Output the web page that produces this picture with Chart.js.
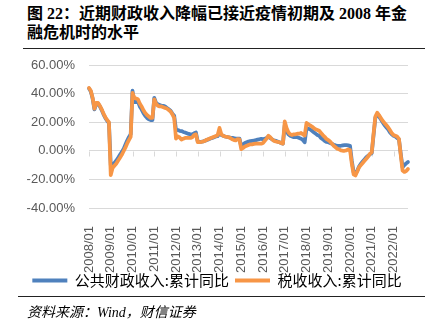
<!DOCTYPE html>
<html>
<head>
<meta charset="utf-8">
<script src="https://cdn.jsdelivr.net/npm/chart.js@4.4.0/dist/chart.umd.min.js"></script>
<style>
  html, body { margin: 0; padding: 0; background: #fff; }
  body { width: 433px; height: 326px; position: relative; overflow: hidden; }
  .title {
    position: absolute; left: 27px; top: 4px; white-space: nowrap;
    font: bold 16px "Liberation Serif", "Noto Sans CJK SC", serif;
    line-height: 19px; color: #000;
  }
  .rule { position: absolute; height: 0; border-top: 1.5px solid #222; }
  #wrap { position: absolute; left: 0; top: 52px; width: 433px; height: 246px; }
  .source {
    position: absolute; left: 27px; top: 303px; white-space: nowrap;
    font: italic 14px "Liberation Serif", "Noto Sans CJK SC", serif;
    line-height: 20px; color: #000;
  }
</style>
</head>
<body>
<div class="title">图 22：近期财政收入降幅已接近疫情初期及 2008 年金<br>融危机时的水平</div>
<div class="rule" style="left:23px; width:402px; top:48px;"></div>
<div id="wrap"><canvas id="revenue" width="433" height="246"></canvas></div>
<div class="rule" style="left:18px; width:407px; top:296px;"></div>
<div class="source">资料来源：Wind，财信证券</div>

<script>
  "use strict";

  // monthly cumulative YoY, %, 2008/01 .. 2022/09
  var pub2008 = [43.5, 41.5, 36.5, 29, 33, 33, 31, 28.5, 25.5, 23, 21, 19.5];
  var pub2009 = [-10, -9.5, -8.5, -7, -5, -3, -1, 1, 4, 7, 9.5, 11.7];
  var pub2010 = [42, 34, 34, 34.5, 31, 29, 26.5, 24.5, 23, 22, 21.5, 21.5];
  var pub2011 = [37, 33.5, 32.5, 32, 31.5, 31.5, 31, 30, 29, 28, 26, 24.5];
  var pub2012 = [14.5, 14.5, 14, 13.8, 13.2, 12.8, 12.3, 11.8, 11.5, 11.5, 12.3, 12.8];
  var pub2013 = [6.5, 6.2, 6.3, 6.6, 7, 7.6, 8, 8.6, 9, 9.5, 10, 10.2];
  var pub2014 = [13, 11, 10.5, 10, 9.8, 9.5, 9.2, 9, 8.8, 8.5, 8.6, 8.6];
  var pub2015 = [3, 4.5, 5.5, 6, 6.5, 6.8, 7, 7.2, 7.4, 7.8, 8.1, 8.4];
  var pub2016 = [8, 8.5, 9, 10, 9, 8, 7.3, 7, 6.5, 6, 5.5, 5];
  var pub2017 = [18, 14, 11.5, 10.5, 10, 9.5, 9.5, 9.5, 9, 8.5, 7.5, 6];
  var pub2018 = [16, 15.5, 15, 14, 13, 12, 11, 10.5, 9, 8, 7, 6.2];
  var pub2019 = [6, 5.5, 5, 4.2, 3.8, 3.5, 3.5, 3.5, 3.8, 4, 4, 3.8];
  var pub2020 = [3.5, -7, -15, -16, -14, -11, -9, -7.5, -6, -4.5, -3.5, -2.5];
  var pub2021 = [-1.5, 11, 23, 25.5, 24, 22, 20, 18, 16.5, 15, 13, 11.5];
  var pub2022 = [10.5, 10, 9, 8, -2, -11.5, -10, -8.8, -7.8];

  var tax2008 = [44, 42, 37, 29.5, 33.5, 33.5, 31.5, 29, 26, 23.5, 21.5, 20];
  var tax2009 = [-17, -12, -10.5, -9, -7, -5, -3, -0.5, 2, 5, 7.5, 9.8];
  var tax2010 = [40.5, 37, 36.5, 36, 33, 31, 28.5, 26.5, 25, 24, 23, 23];
  var tax2011 = [36, 33, 31.5, 31, 31, 30.5, 30, 29.5, 28.5, 27.5, 25.5, 23];
  var tax2012 = [8.5, 10, 9.3, 7.8, 8.5, 9, 9, 9, 9, 9.5, 11, 11.5];
  var tax2013 = [6, 6, 6.2, 6.5, 7, 7.8, 8.3, 8.8, 9.3, 9.8, 10.3, 11];
  var tax2014 = [16, 11.5, 10.5, 10, 9.8, 9.5, 9, 8, 7.5, 7.3, 8.2, 8];
  var tax2015 = [1.2, 2, 3, 3.5, 4, 4.5, 4.5, 4.8, 5, 5, 5, 5];
  var tax2016 = [5.5, 7, 8.5, 10.5, 9.5, 8, 7, 6.5, 6.2, 6, 5.5, 5];
  var tax2017 = [20.5, 16, 13, 11.5, 11, 11.5, 11.5, 12, 12, 12.5, 11.5, 10.7];
  var tax2018 = [19.5, 18.5, 17.8, 17, 16, 15, 14.5, 14, 12.5, 11, 9.8, 8.3];
  var tax2019 = [7.5, 6.5, 5, 3.5, 2.5, 1.5, 1, 0.3, 0, 0, 0.3, 1];
  var tax2020 = [0.5, -9, -16.5, -17.3, -14.5, -11.5, -10, -8.5, -7, -5.5, -4, -2];
  var tax2021 = [-1, 12, 24, 26.6, 25, 23, 21, 19.5, 18, 16.5, 14.5, 12.5];
  var tax2022 = [11, 10.5, 10, 8.3, -3, -13.8, -14.8, -14.2, -12.7];

  var publicRevenue = [].concat(pub2008, pub2009, pub2010, pub2011, pub2012, pub2013, pub2014,
    pub2015, pub2016, pub2017, pub2018, pub2019, pub2020, pub2021, pub2022);
  var taxRevenue = [].concat(tax2008, tax2009, tax2010, tax2011, tax2012, tax2013, tax2014,
    tax2015, tax2016, tax2017, tax2018, tax2019, tax2020, tax2021, tax2022);

  var yTicks = [-40, -20, 0, 20, 40, 60];

  var months = [];
  for (var y = 2008; y <= 2022; y++) {
    for (var m = 1; m <= 12; m++) {
      if (y === 2022 && m > 9) break;
      months.push(y + "/" + (m < 10 ? "0" + m : m));
    }
  }

  var isYearStart = function(label) {
    return label.slice(-3) === "/01";
  };

  // let tick labels run past their axis box instead of being clipped
  var noLabelClip = function(scale) {
    scale._computeLabelArea = function() { return undefined; };
  };

  // short tick marks hanging from the zero line, one per January
  var zeroTicks = {
    id: "zeroTicks",
    beforeDatasetsDraw: function(chart) {
      var ctx = chart.ctx;
      var xs = chart.scales.x;
      var y0 = Math.round(chart.scales.y.getPixelForValue(0)) + 0.5;
      ctx.save();
      ctx.strokeStyle = "#d9d9d9";
      ctx.lineWidth = 1;
      months.forEach(function(label, i) {
        if (!isYearStart(label)) return;
        var px = Math.round(xs.getPixelForValue(i)) + 0.5;
        ctx.beginPath();
        ctx.moveTo(px, y0);
        ctx.lineTo(px, y0 + 5);
        ctx.stroke();
      });
      ctx.restore();
    }
  };

  var line = function(label, values, color, order) {
    return {
      label: label,
      data: values,
      borderColor: color,
      backgroundColor: color,
      borderWidth: 3.75,
      borderJoinStyle: "round",
      borderCapStyle: "round",
      pointRadius: 0,
      tension: 0,
      order: order
    };
  };

  new Chart(document.getElementById("revenue"), {
    type: "line",
    data: {
      labels: months,
      datasets: [
        line("公共财政收入:累计同比", publicRevenue, "#4F81BD", 1),
        line("税收收入:累计同比", taxRevenue, "#F79646", 0)
      ]
    },
    plugins: [zeroTicks],
    options: {
      responsive: false,
      animation: false,
      events: [],
      layout: { padding: { left: 26, right: 25, top: 13, bottom: 0 } },
      scales: {
        x: {
          grid: { display: false },
          border: { display: false },
          ticks: {
            autoSkip: false,
            minRotation: 90,
            maxRotation: 90,
            padding: 10,
            color: "#595959",
            font: { family: "Liberation Sans", size: 13 },
            callback: function(value) {
              var label = this.getLabelForValue(value);
              return isYearStart(label) ? label : null;
            }
          },
          afterFit: function(scale) {
            scale.height = 59;
            scale.paddingLeft = 0;
            scale.paddingRight = 0;
            noLabelClip(scale);
          }
        },
        y: {
          min: yTicks[0],
          max: yTicks[yTicks.length - 1],
          afterBuildTicks: function(scale) {
            scale.ticks = yTicks.map(function(v) { return { value: v }; });
          },
          grid: { color: "#d9d9d9", lineWidth: 1, drawTicks: false },
          border: { display: false },
          ticks: {
            padding: 14,
            color: "#595959",
            font: { family: "Liberation Sans", size: 13 },
            callback: function(v) { return v.toFixed(2) + "%"; }
          },
          afterFit: function(scale) {
            scale.width = 63;
            scale.paddingTop = 0;
            scale.paddingBottom = 0;
            noLabelClip(scale);
          }
        }
      },
      plugins: {
        tooltip: { enabled: false },
        legend: {
          position: "bottom",
          labels: {
            boxWidth: 35,
            boxHeight: 4,
            padding: 6,
            color: "#595959",
            font: { family: "Noto Sans CJK SC", size: 15 },
            sort: function(a, b) { return a.datasetIndex - b.datasetIndex; },
            generateLabels: function(chart) {
              return chart.data.datasets.map(function(d, i) {
                return {
                  text: d.label,
                  fillStyle: d.borderColor,
                  strokeStyle: d.borderColor,
                  lineWidth: 0,
                  datasetIndex: i,
                  hidden: false
                };
              });
            }
          }
        }
      }
    }
  });
</script>
</body>
</html>
